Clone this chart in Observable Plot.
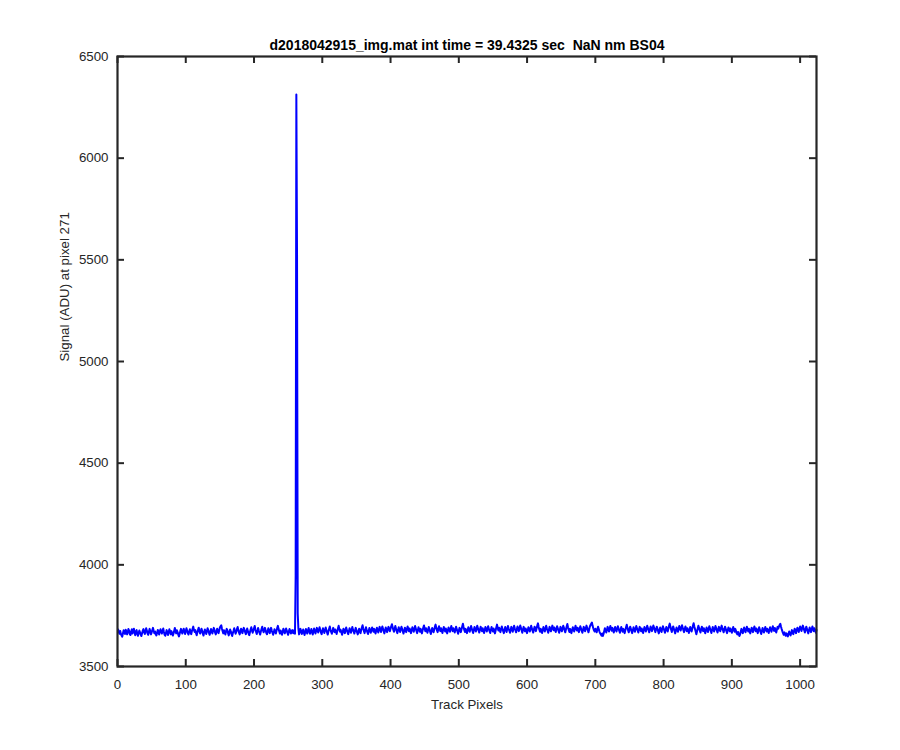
<!DOCTYPE html>
<html><head><meta charset="utf-8">
<script src="https://cdn.jsdelivr.net/npm/d3@7"></script>
<script src="https://cdn.jsdelivr.net/npm/@observablehq/plot@0.6"></script>
<style>
body{margin:0;background:#fff;}
svg text{white-space:pre;}
</style></head><body><div id="chart"></div>
<script>
const titleText = "d2018042915_img.mat int time = 39.4325 sec  NaN nm BS04";
const xLabel = "Track Pixels";
const yLabel = "Signal (ADU) at pixel 271";
const xTicks = [0,100,200,300,400,500,600,700,800,900,1000];
const yTicks = [3500,4000,4500,5000,5500,6000,6500];
// Signal (ADU) for track pixels 1..1024
const signal = [
3682,3668,3661,3675,3659,3652,3647,3664,3678,3670,3660,3681,3673,3658,3669,3684,
3676,3659,3655,3671,3683,3662,3674,3686,3668,3654,3672,3679,3660,3651,3665,3677,
3668,3657,3650,3663,3676,3684,3669,3660,3675,3688,3677,3662,3656,3671,3685,3673,
3658,3667,3679,3690,3676,3664,3672,3659,3653,3666,3680,3670,3657,3673,3683,3671,
3662,3676,3687,3670,3656,3651,3665,3679,3668,3655,3669,3683,3672,3658,3674,3664,
3652,3661,3675,3689,3673,3663,3678,3669,3657,3648,3660,3674,3685,3671,3662,3676,
3686,3672,3660,3675,3688,3677,3664,3657,3671,3683,3669,3659,3674,3685,3696,3680,
3670,3679,3665,3654,3668,3680,3691,3674,3662,3672,3686,3676,3661,3652,3669,3682,
3673,3660,3674,3688,3678,3665,3656,3670,3684,3674,3662,3676,3690,3680,3667,3658,
3672,3686,3675,3664,3677,3692,3698,3703,3686,3674,3663,3678,3668,3657,3673,3685,
3677,3664,3653,3668,3682,3673,3659,3650,3665,3676,3688,3673,3661,3670,3684,3694,
3679,3667,3658,3672,3686,3676,3664,3678,3690,3680,3669,3659,3673,3687,3675,3662,
3654,3668,3682,3693,3678,3666,3676,3688,3699,3682,3670,3660,3675,3689,3677,3666,
3657,3672,3684,3696,3680,3668,3677,3690,3678,3665,3659,3674,3688,3675,3664,3678,
3690,3677,3666,3656,3669,3683,3674,3662,3676,3690,3700,3684,3672,3662,3677,3668,
3656,3671,3686,3676,3663,3673,3687,3677,3665,3656,3672,3684,3674,3662,3677,3666,
3679,3664,3673,3661,3948,6313,5526,3762,3686,3658,3672,3685,3674,3660,3670,3682,
3667,3655,3670,3684,3672,3662,3677,3689,3674,3661,3671,3684,3669,3657,3672,3687,
3674,3662,3676,3690,3679,3667,3680,3693,3681,3668,3659,3674,3688,3677,3665,3679,
3692,3680,3667,3657,3672,3686,3697,3681,3670,3661,3676,3690,3679,3669,3682,3671,
3660,3674,3688,3700,3684,3671,3680,3668,3656,3671,3686,3676,3664,3678,3692,3680,
3668,3659,3674,3688,3678,3666,3680,3694,3681,3672,3662,3677,3690,3679,3668,3658,
3671,3686,3676,3664,3678,3692,3703,3687,3674,3664,3679,3693,3681,3669,3660,3675,
3689,3678,3666,3680,3692,3681,3671,3685,3674,3662,3677,3691,3679,3667,3681,3695,
3682,3670,3684,3697,3685,3673,3663,3678,3692,3681,3669,3683,3695,3685,3673,3686,
3698,3708,3694,3681,3671,3685,3699,3686,3674,3664,3679,3693,3682,3670,3684,3696,
3684,3672,3662,3677,3691,3680,3669,3683,3697,3685,3673,3687,3676,3664,3679,3693,
3683,3671,3685,3699,3687,3674,3664,3679,3693,3682,3671,3686,3675,3663,3678,3692,
3702,3686,3673,3688,3677,3666,3680,3694,3683,3671,3660,3675,3689,3680,3668,3682,
3696,3706,3690,3678,3669,3684,3698,3685,3674,3688,3677,3665,3680,3694,3683,3672,
3687,3675,3663,3678,3692,3681,3671,3685,3699,3686,3674,3688,3677,3667,3682,3696,
3684,3672,3661,3676,3690,3681,3669,3683,3697,3710,3694,3680,3670,3685,3674,3664,
3679,3693,3681,3671,3685,3699,3687,3675,3665,3680,3694,3682,3672,3686,3700,3688,
3676,3667,3682,3696,3684,3673,3688,3677,3665,3680,3694,3684,3672,3686,3698,3686,
3674,3665,3680,3694,3682,3672,3687,3675,3663,3678,3693,3706,3689,3677,3691,3679,
3669,3684,3697,3686,3674,3664,3679,3694,3682,3670,3685,3699,3687,3676,3666,3681,
3695,3683,3671,3686,3700,3688,3678,3668,3683,3697,3686,3674,3688,3702,3690,3678,
3666,3681,3695,3683,3673,3687,3676,3664,3679,3693,3684,3672,3686,3700,3688,3676,
3667,3682,3696,3686,3674,3688,3702,3712,3694,3681,3671,3686,3675,3665,3680,3694,
3682,3672,3686,3700,3688,3677,3666,3681,3695,3683,3673,3687,3701,3690,3678,3692,
3680,3670,3685,3698,3688,3676,3666,3681,3695,3683,3673,3687,3700,3690,3678,3668,
3683,3697,3709,3692,3680,3670,3685,3674,3664,3679,3693,3684,3672,3686,3700,3688,
3677,3691,3680,3669,3684,3698,3688,3676,3666,3681,3695,3684,3673,3687,3701,3690,
3679,3668,3683,3697,3704,3710,3716,3700,3688,3678,3672,3686,3679,3668,3683,3696,
3684,3672,3664,3658,3652,3662,3650,3660,3674,3688,3677,3667,3681,3695,3684,3672,
3686,3699,3688,3676,3690,3679,3667,3681,3694,3683,3672,3686,3698,3688,3676,3666,
3680,3694,3683,3671,3685,3675,3664,3679,3693,3705,3690,3678,3668,3683,3696,3686,
3674,3664,3679,3693,3682,3671,3685,3699,3688,3677,3667,3682,3695,3685,3673,3687,
3676,3665,3680,3694,3684,3672,3686,3700,3689,3678,3668,3683,3697,3686,3674,3688,
3702,3691,3680,3669,3683,3696,3686,3674,3663,3678,3692,3681,3670,3685,3698,3688,
3677,3666,3681,3694,3684,3672,3686,3700,3711,3695,3682,3670,3684,3697,3687,3675,
3663,3678,3692,3681,3671,3685,3699,3688,3677,3691,3703,3691,3679,3669,3684,3697,
3685,3674,3688,3677,3665,3680,3694,3684,3672,3686,3700,3713,3697,3684,3672,3659,
3673,3687,3700,3689,3677,3667,3682,3696,3685,3674,3688,3677,3663,3678,3692,3682,
3670,3684,3698,3687,3676,3665,3680,3694,3683,3672,3686,3699,3689,3677,3667,3682,
3695,3685,3673,3687,3701,3689,3679,3668,3683,3696,3686,3674,3664,3679,3692,3683,
3673,3687,3676,3666,3680,3694,3683,3671,3685,3675,3664,3658,3670,3660,3650,3657,
3671,3685,3675,3664,3678,3692,3680,3668,3682,3696,3684,3672,3686,3675,3663,3677,
3691,3681,3669,3683,3697,3685,3673,3687,3676,3664,3679,3693,3682,3670,3660,3675,
3689,3678,3667,3681,3694,3684,3672,3686,3675,3665,3680,3693,3683,3671,3685,3698,
3686,3675,3689,3677,3667,3682,3695,3686,3697,3704,3710,3696,3684,3673,3664,3656,
3668,3659,3651,3663,3655,3648,3661,3672,3662,3653,3665,3679,3668,3659,3673,3686,
3676,3664,3678,3691,3682,3670,3684,3697,3687,3675,3689,3701,3690,3678,3667,3682,
3696,3685,3673,3663,3678,3692,3681,3669,3683,3697,3686,3674,3688,3679,3666,3680
];
const data = signal.map((v, i) => ({pixel: i + 1, value: v}));

const W = 900, H = 750, mL = 117, mR = 84, mT = 56, mB = 84;
const frameW = W - mL - mR;
const frameH = H - mT - mB;
const tickLen = 7;
const ink = "#262626";

const chart = Plot.plot({
  width: W, height: H,
  marginLeft: mL, marginRight: mR, marginTop: mT, marginBottom: mB,
  style: {fontFamily: "'Liberation Sans', Arial, Helvetica, sans-serif", fontSize: "13.3px", color: ink, background: "#fff", overflow: "visible"},
  x: {domain: [0, 1024]},
  y: {domain: [3500, 6500]},
  marks: [
    Plot.line(data, {x: "pixel", y: "value", stroke: "#0000ff", strokeWidth: 2}),
    Plot.axisX(xTicks, {anchor: "bottom", tickSize: 0, tickPadding: 13, label: null, tickFormat: d => String(d)}),
    Plot.axisY(yTicks, {anchor: "left", tickSize: 0, tickPadding: 9, label: null, tickFormat: d => String(d)}),
    Plot.tickX(xTicks, {x: d => d, insetTop: frameH - tickLen, stroke: ink, strokeWidth: 2}),
    Plot.tickX(xTicks, {x: d => d, insetBottom: frameH - tickLen, stroke: ink, strokeWidth: 2}),
    Plot.tickY(yTicks, {y: d => d, insetRight: frameW - tickLen, stroke: ink, strokeWidth: 2}),
    Plot.tickY(yTicks, {y: d => d, insetLeft: frameW - tickLen, stroke: ink, strokeWidth: 2}),
    Plot.frame({stroke: ink, strokeWidth: 2.2}),
    Plot.text([titleText], {frameAnchor: "top", dy: -16, fontWeight: "bold", fill: "#000", fontSize: 14}),
    Plot.text([xLabel], {frameAnchor: "bottom", dy: 42, fill: ink}),
    Plot.text([yLabel], {frameAnchor: "left", dx: -53, rotate: -90, fill: ink})
  ]
});
document.getElementById("chart").appendChild(chart);
</script>
</body></html>
